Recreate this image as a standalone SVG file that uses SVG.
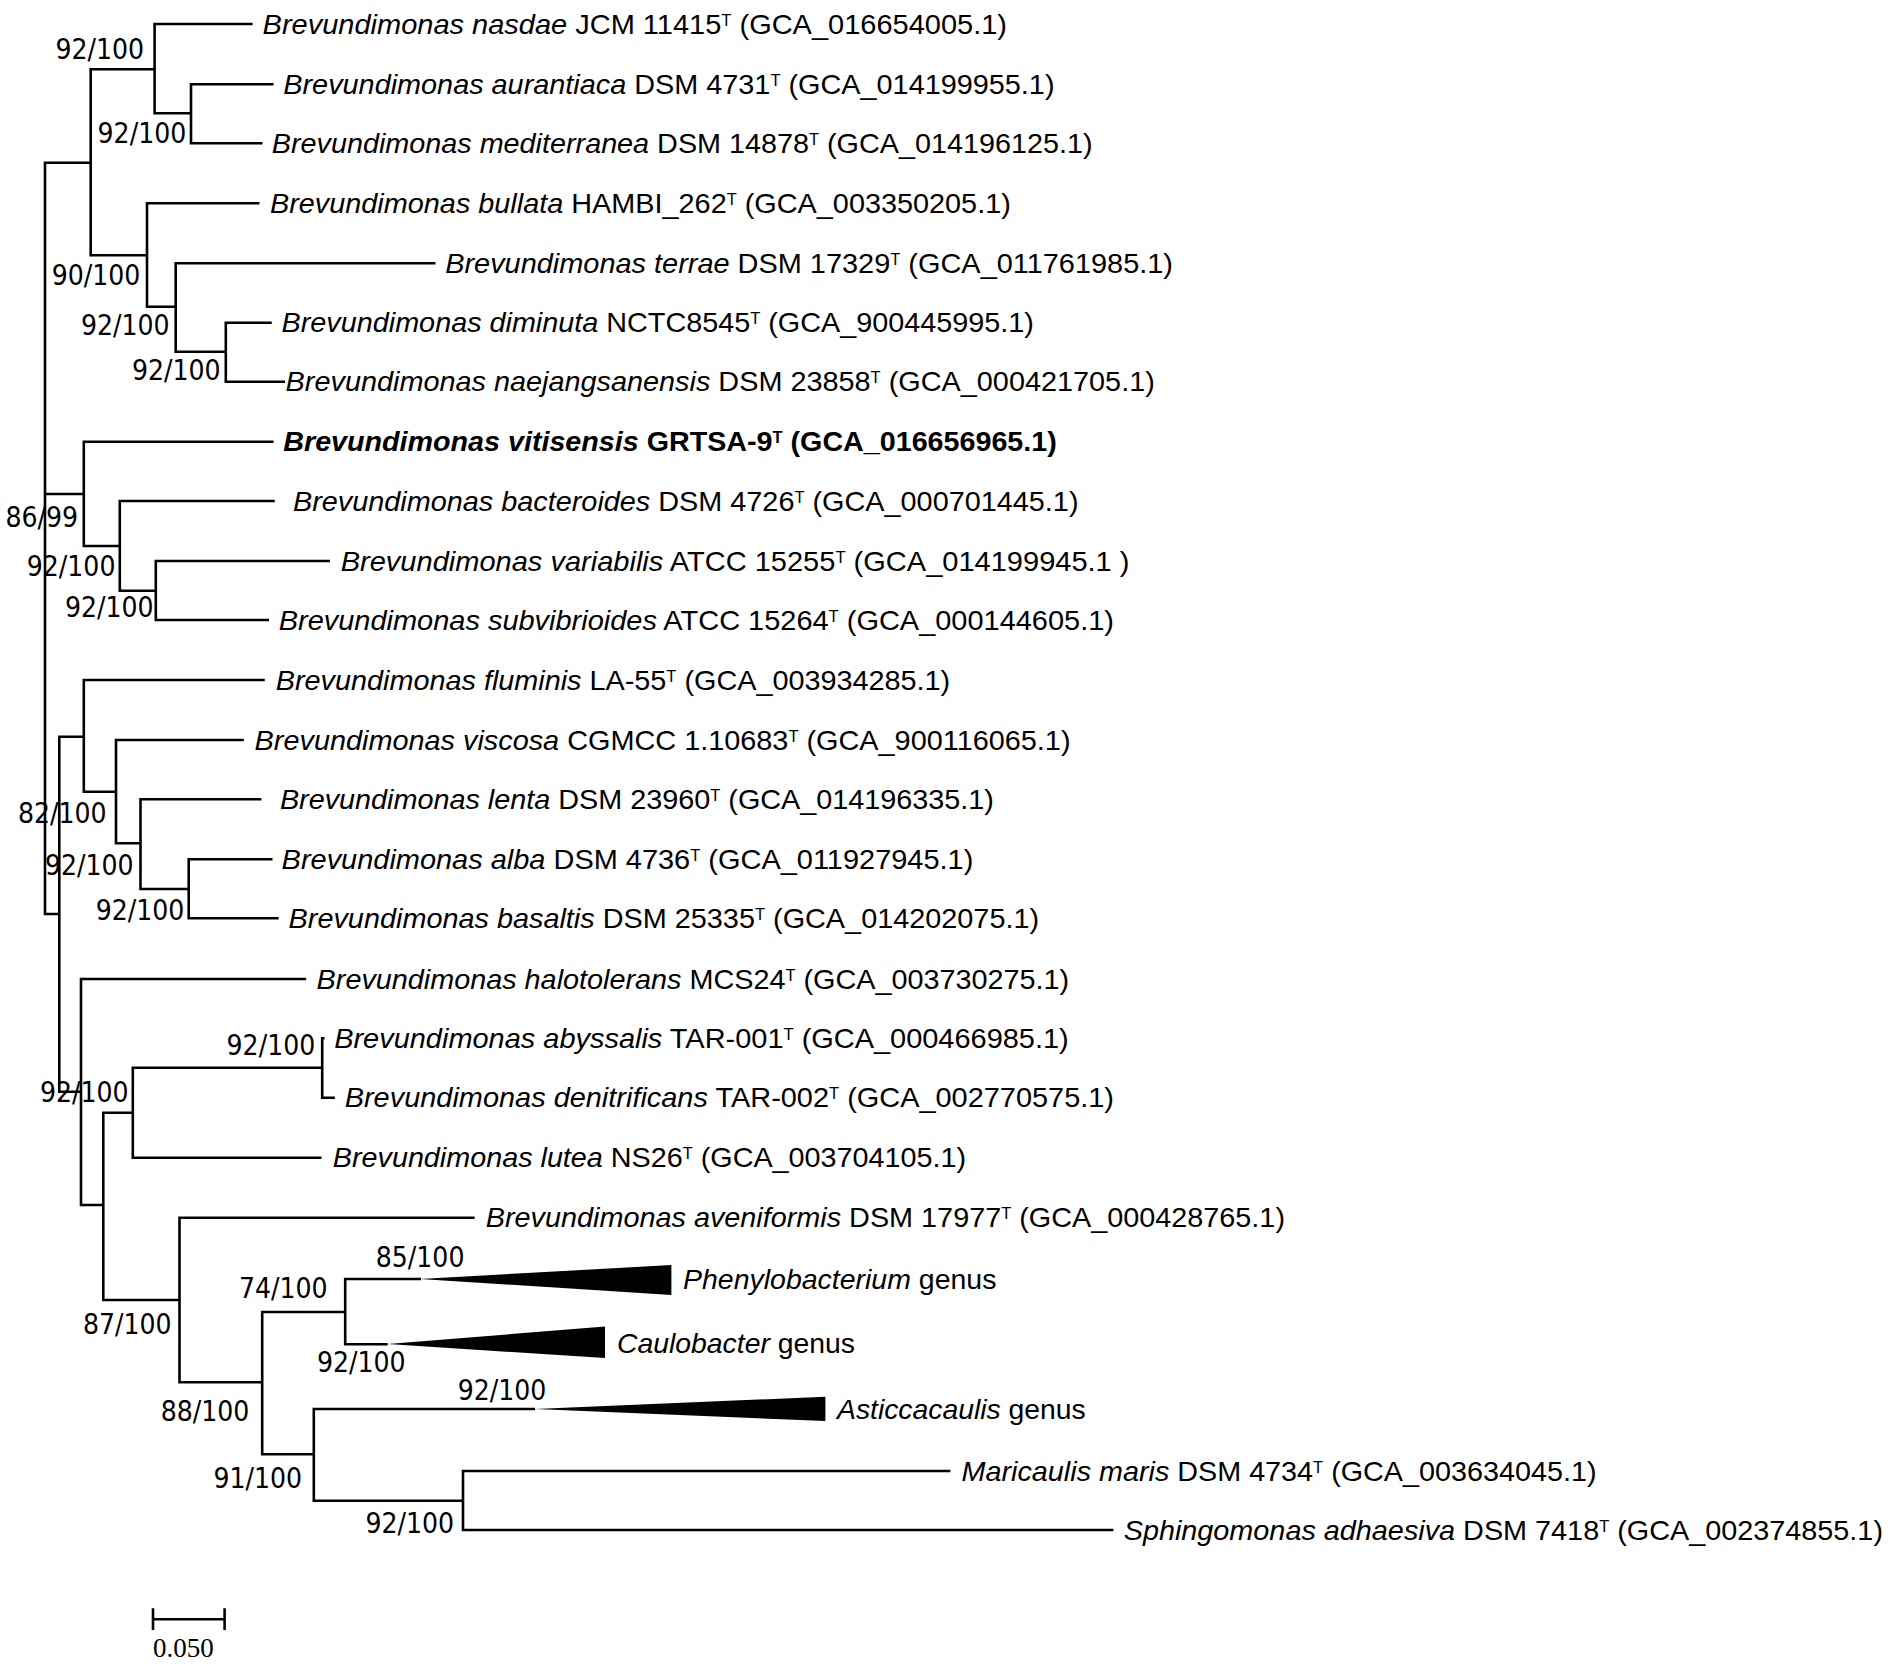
<svg xmlns="http://www.w3.org/2000/svg" width="1890" height="1667" viewBox="0 0 1890 1667">
<style>
.tx{font-family:"Liberation Sans",Arial,sans-serif;font-size:28px;fill:#000}
.sp{font-style:italic}
.b{font-weight:bold}
.sup{font-size:16px}
.bs{font-family:"DejaVu Sans Condensed","DejaVu Sans",sans-serif;font-stretch:condensed;font-size:28px;fill:#000}
.sc{font-family:"Liberation Serif","Times New Roman",serif;font-size:27px;fill:#000}
.ln{fill:none;stroke:#000;stroke-width:2.6;stroke-linejoin:miter;stroke-linecap:butt}
</style>
<rect width="1890" height="1667" fill="#fff"/>
<g id="connectors" class="ln">
<path d="M90.7 162.7H45V914H59.3M45 494H83.8"/>
<path d="M154.6 69.3H90.7V255.3H147"/>
<path d="M252.6 24H154.6V113.3H191"/>
<path d="M273.6 84.3H191V143.3H262.5"/>
<path d="M259.5 203.3H147V306.7H175.7"/>
<path d="M435.5 263.3H175.7V351.7H225.8"/>
<path d="M271.7 322.7H225.8V381.7H285"/>
<path d="M273.6 441.7H83.8V546H119.8"/>
<path d="M274.8 501H119.8V590.7H155.8"/>
<path d="M329.9 561H155.8V620H269"/>
<path d="M83.8 736.7H59.3V1091.7H81"/>
<path d="M264.8 680H83.8V791.7H116"/>
<path d="M243.8 740H116V843.3H140.5"/>
<path d="M261.4 799.3H140.5V889H188.7"/>
<path d="M272.5 859.3H188.7V918.3H278.6"/>
<path d="M306.2 979H81V1205H103.3"/>
<path d="M132.8 1112.7H103.3V1300H179.5"/>
<path d="M322.2 1067.7H132.8V1157.7H321.5"/>
<path d="M324.5 1038.3H322.2V1097.7H334.9"/>
<path d="M474.6 1217.7H179.5V1382.3H262.2"/>
<path d="M345.2 1312H262.2V1454.3H313.8"/>
<path d="M421 1279H345.2V1344.3H387.7"/>
<path d="M535 1409H313.8V1500.7H463"/>
<path d="M950.4 1471H463V1530H1113.4"/>
</g>
<g id="collapsed">
<polygon id="tri-phenylobacterium" points="420,1279 671.4,1265 671.4,1295" fill="#000"/>
<polygon id="tri-caulobacter" points="387.7,1344 605,1326.5 605,1358" fill="#000"/>
<polygon id="tri-asticcacaulis" points="535,1409 825.4,1396.7 825.4,1421" fill="#000"/>
</g>
<g id="leaves">
<g id="leaf-nasdae"><text class="tx" x="262.6" y="33.5" textLength="744.4" lengthAdjust="spacingAndGlyphs"><tspan class="sp">Brevundimonas nasdae</tspan> JCM 11415<tspan class="sup" dy="-8">T</tspan><tspan dy="8"> (GCA_016654005.1)</tspan></text></g>
<g id="leaf-aurantiaca"><text class="tx" x="283.3" y="93.8" textLength="771.2" lengthAdjust="spacingAndGlyphs"><tspan class="sp">Brevundimonas aurantiaca</tspan> DSM 4731<tspan class="sup" dy="-8">T</tspan><tspan dy="8"> (GCA_014199955.1)</tspan></text></g>
<g id="leaf-mediterranea"><text class="tx" x="271.8" y="152.8" textLength="820.7" lengthAdjust="spacingAndGlyphs"><tspan class="sp">Brevundimonas mediterranea</tspan> DSM 14878<tspan class="sup" dy="-8">T</tspan><tspan dy="8"> (GCA_014196125.1)</tspan></text></g>
<g id="leaf-bullata"><text class="tx" x="270" y="212.8" textLength="740.8" lengthAdjust="spacingAndGlyphs"><tspan class="sp">Brevundimonas bullata</tspan> HAMBI_262<tspan class="sup" dy="-8">T</tspan><tspan dy="8"> (GCA_003350205.1)</tspan></text></g>
<g id="leaf-terrae"><text class="tx" x="445.2" y="272.8" textLength="727.8" lengthAdjust="spacingAndGlyphs"><tspan class="sp">Brevundimonas terrae</tspan> DSM 17329<tspan class="sup" dy="-8">T</tspan><tspan dy="8"> (GCA_011761985.1)</tspan></text></g>
<g id="leaf-diminuta"><text class="tx" x="281.6" y="332.2" textLength="752.2" lengthAdjust="spacingAndGlyphs"><tspan class="sp">Brevundimonas diminuta</tspan> NCTC8545<tspan class="sup" dy="-8">T</tspan><tspan dy="8"> (GCA_900445995.1)</tspan></text></g>
<g id="leaf-naejangsanensis"><text class="tx" x="285.6" y="391.2" textLength="869.2" lengthAdjust="spacingAndGlyphs"><tspan class="sp">Brevundimonas naejangsanensis</tspan> DSM 23858<tspan class="sup" dy="-8">T</tspan><tspan dy="8"> (GCA_000421705.1)</tspan></text></g>
<g id="leaf-vitisensis"><text class="tx b" x="283.3" y="451.2" textLength="773.5" lengthAdjust="spacingAndGlyphs"><tspan class="sp">Brevundimonas vitisensis</tspan> GRTSA-9<tspan class="sup" dy="-8">T</tspan><tspan dy="8"> (GCA_016656965.1)</tspan></text></g>
<g id="leaf-bacteroides"><text class="tx" x="293" y="510.5" textLength="785.5" lengthAdjust="spacingAndGlyphs"><tspan class="sp">Brevundimonas bacteroides</tspan> DSM 4726<tspan class="sup" dy="-8">T</tspan><tspan dy="8"> (GCA_000701445.1)</tspan></text></g>
<g id="leaf-variabilis"><text class="tx" x="340.7" y="570.5" textLength="788.8" lengthAdjust="spacingAndGlyphs"><tspan class="sp">Brevundimonas variabilis</tspan> ATCC 15255<tspan class="sup" dy="-8">T</tspan><tspan dy="8"> (GCA_014199945.1 )</tspan></text></g>
<g id="leaf-subvibrioides"><text class="tx" x="278.7" y="629.5" textLength="835.3" lengthAdjust="spacingAndGlyphs"><tspan class="sp">Brevundimonas subvibrioides</tspan> ATCC 15264<tspan class="sup" dy="-8">T</tspan><tspan dy="8"> (GCA_000144605.1)</tspan></text></g>
<g id="leaf-fluminis"><text class="tx" x="275.8" y="689.5" textLength="674.4" lengthAdjust="spacingAndGlyphs"><tspan class="sp">Brevundimonas fluminis</tspan> LA-55<tspan class="sup" dy="-8">T</tspan><tspan dy="8"> (GCA_003934285.1)</tspan></text></g>
<g id="leaf-viscosa"><text class="tx" x="254.6" y="749.5" textLength="815.9" lengthAdjust="spacingAndGlyphs"><tspan class="sp">Brevundimonas viscosa</tspan> CGMCC 1.10683<tspan class="sup" dy="-8">T</tspan><tspan dy="8"> (GCA_900116065.1)</tspan></text></g>
<g id="leaf-lenta"><text class="tx" x="279.9" y="808.8" textLength="714" lengthAdjust="spacingAndGlyphs"><tspan class="sp">Brevundimonas lenta</tspan> DSM 23960<tspan class="sup" dy="-8">T</tspan><tspan dy="8"> (GCA_014196335.1)</tspan></text></g>
<g id="leaf-alba"><text class="tx" x="281.6" y="868.8" textLength="691.7" lengthAdjust="spacingAndGlyphs"><tspan class="sp">Brevundimonas alba</tspan> DSM 4736<tspan class="sup" dy="-8">T</tspan><tspan dy="8"> (GCA_011927945.1)</tspan></text></g>
<g id="leaf-basaltis"><text class="tx" x="288.6" y="927.8" textLength="750.5" lengthAdjust="spacingAndGlyphs"><tspan class="sp">Brevundimonas basaltis</tspan> DSM 25335<tspan class="sup" dy="-8">T</tspan><tspan dy="8"> (GCA_014202075.1)</tspan></text></g>
<g id="leaf-halotolerans"><text class="tx" x="316.6" y="988.5" textLength="752.6" lengthAdjust="spacingAndGlyphs"><tspan class="sp">Brevundimonas halotolerans</tspan> MCS24<tspan class="sup" dy="-8">T</tspan><tspan dy="8"> (GCA_003730275.1)</tspan></text></g>
<g id="leaf-abyssalis"><text class="tx" x="334.2" y="1047.8" textLength="734.5" lengthAdjust="spacingAndGlyphs"><tspan class="sp">Brevundimonas abyssalis</tspan> TAR-001<tspan class="sup" dy="-8">T</tspan><tspan dy="8"> (GCA_000466985.1)</tspan></text></g>
<g id="leaf-denitrificans"><text class="tx" x="344.7" y="1107.2" textLength="769.3" lengthAdjust="spacingAndGlyphs"><tspan class="sp">Brevundimonas denitrificans</tspan> TAR-002<tspan class="sup" dy="-8">T</tspan><tspan dy="8"> (GCA_002770575.1)</tspan></text></g>
<g id="leaf-lutea"><text class="tx" x="332.8" y="1167.2" textLength="633.2" lengthAdjust="spacingAndGlyphs"><tspan class="sp">Brevundimonas lutea</tspan> NS26<tspan class="sup" dy="-8">T</tspan><tspan dy="8"> (GCA_003704105.1)</tspan></text></g>
<g id="leaf-aveniformis"><text class="tx" x="485.8" y="1227.2" textLength="799.2" lengthAdjust="spacingAndGlyphs"><tspan class="sp">Brevundimonas aveniformis</tspan> DSM 17977<tspan class="sup" dy="-8">T</tspan><tspan dy="8"> (GCA_000428765.1)</tspan></text></g>
<g id="leaf-phenylobacterium"><text class="tx" x="683" y="1288.5" textLength="313.4" lengthAdjust="spacingAndGlyphs"><tspan class="sp">Phenylobacterium</tspan> genus</text></g>
<g id="leaf-caulobacter"><text class="tx" x="617" y="1353" textLength="238" lengthAdjust="spacingAndGlyphs"><tspan class="sp">Caulobacter</tspan> genus</text></g>
<g id="leaf-asticcacaulis"><text class="tx" x="837" y="1418.5" textLength="248.7" lengthAdjust="spacingAndGlyphs"><tspan class="sp">Asticcacaulis</tspan> genus</text></g>
<g id="leaf-maricaulis"><text class="tx" x="961.6" y="1480.5" textLength="634.9" lengthAdjust="spacingAndGlyphs"><tspan class="sp">Maricaulis maris</tspan> DSM 4734<tspan class="sup" dy="-8">T</tspan><tspan dy="8"> (GCA_003634045.1)</tspan></text></g>
<g id="leaf-sphingomonas"><text class="tx" x="1123.7" y="1539.5" textLength="759.3" lengthAdjust="spacingAndGlyphs"><tspan class="sp">Sphingomonas adhaesiva</tspan> DSM 7418<tspan class="sup" dy="-8">T</tspan><tspan dy="8"> (GCA_002374855.1)</tspan></text></g>
</g>
<g id="bootstrap" class="bs">
<text x="55.5" y="59.3">92/100</text>
<text x="97.6" y="142.7">92/100</text>
<text x="51.7" y="285">90/100</text>
<text x="81" y="335">92/100</text>
<text x="132" y="380">92/100</text>
<text x="5.5" y="526.7">86/99</text>
<text x="26.8" y="575.7">92/100</text>
<text x="65" y="616.7">92/100</text>
<text x="18" y="823">82/100</text>
<text x="45" y="875">92/100</text>
<text x="95.7" y="920">92/100</text>
<text x="226.6" y="1055">92/100</text>
<text x="40" y="1101.7">92/100</text>
<text x="375.8" y="1266.7">85/100</text>
<text x="239" y="1298.3">74/100</text>
<text x="83" y="1334">87/100</text>
<text x="317" y="1371.7">92/100</text>
<text x="457.7" y="1400">92/100</text>
<text x="160.7" y="1420.7">88/100</text>
<text x="213.5" y="1488.3">91/100</text>
<text x="365.5" y="1533.3">92/100</text>
</g>
<g id="scale-bar">
<path class="ln" d="M153 1619.3H224.6M153 1608.3V1630M224.6 1608.3V1630"/>
<text class="sc" x="153" y="1657">0.050</text>
</g>
</svg>
